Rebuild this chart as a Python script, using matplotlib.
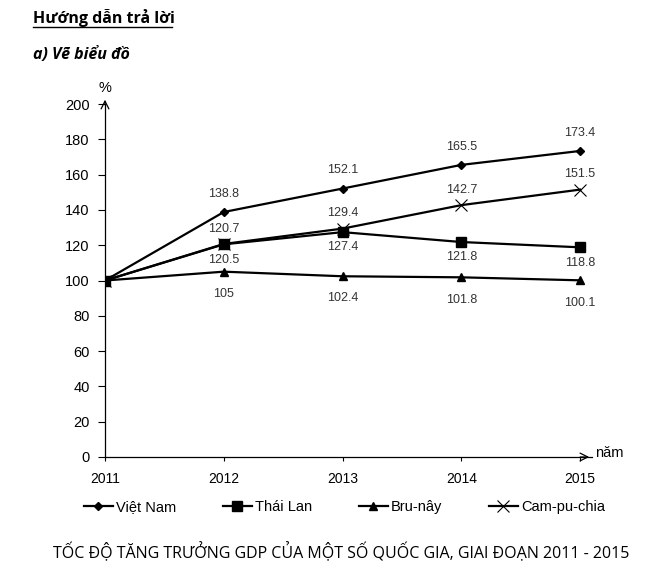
import numpy as np
import matplotlib.pyplot as plt
from matplotlib.lines import Line2D

years = [2011, 2012, 2013, 2014, 2015]
viet_nam = [100, 138.8, 152.1, 165.5, 173.4]
thai_lan = [100, 120.5, 127.4, 121.8, 118.8]
bru_nay = [100, 105, 102.4, 101.8, 100.1]
cam_pu_chia = [100, 120.7, 129.4, 142.7, 151.5]
y_ticks = [0, 20, 40, 60, 80, 100, 120, 140, 160, 180, 200]

plt.rcParams['font.family'] = ['Liberation Sans', 'DejaVu Sans']

fig = plt.figure(figsize=(6.62, 5.77), dpi=100)
ax = fig.add_axes([105 / 662, 1 - 457 / 577, 487 / 662, 353 / 577])

ax.plot(years, viet_nam, color='black', lw=1.6, marker='D', ms=4, label='Việt Nam')
ax.plot(years, thai_lan, color='black', lw=1.6, marker='s', ms=7, label='Thái Lan')
ax.plot(years, bru_nay, color='black', lw=1.6, marker='^', ms=6, label='Bru-nây')
ax.plot(years, cam_pu_chia, color='black', lw=1.6, marker='x', ms=8, mew=0.8,
        label='Cam-pu-chia')

# data labels
lab = dict(ha='center', va='center', fontsize=9, color='#333333', textcoords='offset points')
for x, v in zip(years[1:], viet_nam[1:]):
    ax.annotate(f'{v:g}', (x, v), xytext=(0, 13), **lab)
for x, v in zip(years[1:], cam_pu_chia[1:]):
    ax.annotate(f'{v:g}', (x, v), xytext=(0, 11), **lab)
for x, v in zip(years[1:], thai_lan[1:]):
    ax.annotate(f'{v:g}', (x, v), xytext=(0, -11), **lab)
for x, v in zip(years[1:], bru_nay[1:]):
    ax.annotate(f'{v:g}', (x, v), xytext=(0, -16), **lab)

ax.set_xlim(2011, 2015.1)
ax.set_ylim(0, 200)
ax.set_xticks(years)
ax.set_yticks(y_ticks)
ax.tick_params(axis='y', direction='out', length=5, labelsize=10.5, pad=6)
ax.tick_params(axis='x', direction='out', length=3, labelsize=10, pad=8)
for s in ['top', 'right']:
    ax.spines[s].set_visible(False)
ax.spines['left'].set_linewidth(0.9)
ax.spines['bottom'].set_linewidth(0.9)

# axis arrows
ax.annotate('', xy=(0, 1.02), xytext=(0, 0.99), xycoords='axes fraction',
            arrowprops=dict(arrowstyle='->', color='black', lw=0.9, mutation_scale=14))
ax.annotate('', xy=(1.0, 0), xytext=(0.97, 0), xycoords='axes fraction',
            arrowprops=dict(arrowstyle='->', color='black', lw=0.9, mutation_scale=14))
ax.text(0, 1.045, '%', transform=ax.transAxes, ha='center', va='center', fontsize=10.5)
ax.text(1.035, 0.01, 'năm', transform=ax.transAxes, ha='center', va='center', fontsize=10.5)

fig.legend(loc='center', bbox_to_anchor=(0.52, 1 - 507 / 577), ncol=4, frameon=False,
           fontsize=10.5, handlelength=2.0, handletextpad=0.2, columnspacing=3.2)

fig.text(33 / 662, 1 - 18 / 577, 'Hướng dẫn trả lời', fontsize=11.5, fontweight='bold',
         family='Open Sans', ha='left', va='center')
fig.add_artist(Line2D([33 / 662, 172 / 662], [1 - 27 / 577] * 2, color='black', lw=1))
fig.text(33 / 662, 1 - 55 / 577, 'a) Vẽ biểu đồ', fontsize=11.5, fontweight='bold',
         fontstyle='italic', family='Open Sans', ha='left', va='center')
fig.text(341 / 662, 1 - 552 / 577, 'TỐC ĐỘ TĂNG TRƯỞNG GDP CỦA MỘT SỐ QUỐC GIA, GIAI ĐOẠN 2011 - 2015',
         fontsize=11.5, family='Open Sans', ha='center', va='center')

fig.savefig('out.png', dpi=100)
